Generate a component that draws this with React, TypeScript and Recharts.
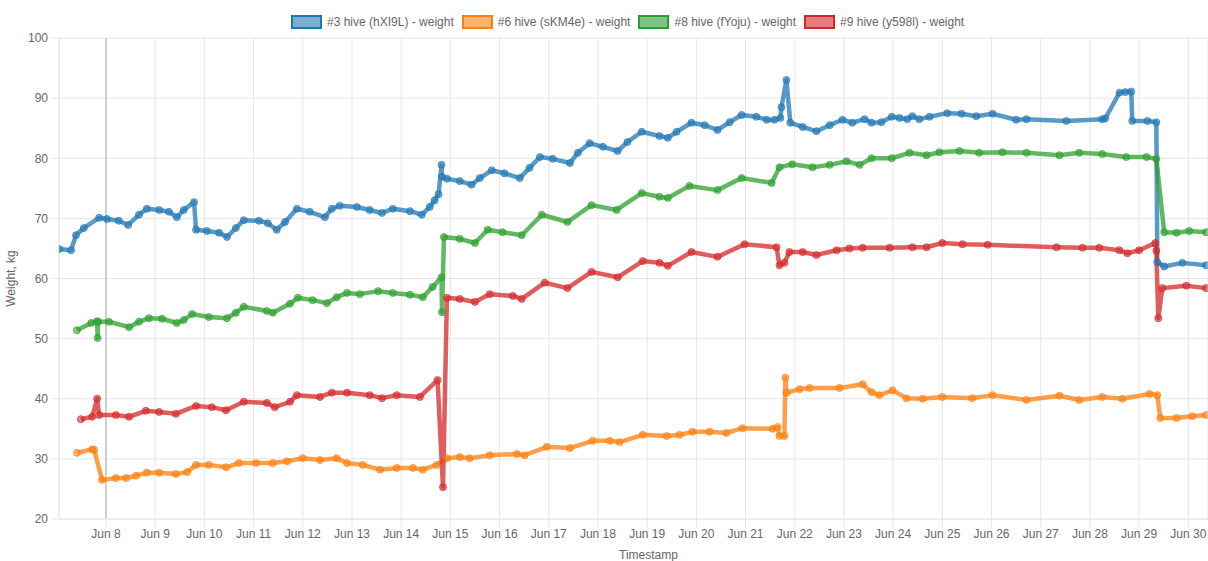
import React from "react";
import {
  LineChart,
  Line,
  XAxis,
  YAxis,
  CartesianGrid,
  ReferenceLine,
} from "recharts";

// time = fractional day of June, value = weight in kg
const hive3: [number, number][] = [
  [7.045, 64.9], [7.29, 64.7], [7.39, 67.2], [7.55, 68.4], [7.86, 70.1], [8.02, 69.9],
  [8.26, 69.6], [8.45, 68.9], [8.67, 70.6], [8.83, 71.6], [9.08, 71.4], [9.28, 71.1],
  [9.44, 70.2], [9.58, 71.4], [9.79, 72.7], [9.83, 68.1], [10.05, 67.9], [10.3, 67.6],
  [10.46, 66.9], [10.64, 68.4], [10.8, 69.7], [11.11, 69.6], [11.29, 69.2], [11.47, 68.1],
  [11.64, 69.4], [11.88, 71.6], [12.14, 71.1], [12.45, 70.2], [12.59, 71.6], [12.75, 72.1],
  [13.1, 71.9], [13.36, 71.4], [13.61, 70.9], [13.83, 71.6], [14.18, 71.2], [14.42, 70.6],
  [14.58, 71.9], [14.68, 73.0], [14.76, 74.0], [14.82, 78.9], [14.83, 76.9], [14.93, 76.6],
  [15.19, 76.2], [15.43, 75.6], [15.6, 76.7], [15.84, 78.0], [16.1, 77.5], [16.41, 76.7],
  [16.61, 78.4], [16.82, 80.2], [17.08, 79.9], [17.43, 79.2], [17.59, 80.9], [17.83, 82.5],
  [18.1, 81.9], [18.4, 81.2], [18.6, 82.7], [18.89, 84.4], [19.25, 83.7], [19.42, 83.4],
  [19.6, 84.4], [19.9, 85.9], [20.17, 85.5], [20.43, 84.7], [20.68, 86.0], [20.92, 87.2],
  [21.22, 86.9], [21.43, 86.4], [21.59, 86.4], [21.71, 86.7], [21.73, 88.5], [21.83, 93.0],
  [21.91, 85.9], [22.16, 85.2], [22.44, 84.5], [22.71, 85.5], [22.97, 86.4], [23.17, 85.9],
  [23.42, 86.5], [23.56, 85.9], [23.76, 86.0], [23.97, 86.9], [24.13, 86.7], [24.29, 86.5],
  [24.39, 87.0], [24.53, 86.5], [24.74, 86.9], [25.1, 87.5], [25.39, 87.4], [25.69, 87.0],
  [26.02, 87.4], [26.5, 86.4], [26.71, 86.5], [27.52, 86.2], [28.25, 86.5], [28.31, 86.6],
  [28.6, 90.9], [28.72, 91.0], [28.84, 91.1], [28.86, 86.2], [29.17, 86.2], [29.35, 86.0],
  [29.37, 62.7], [29.51, 62.0], [29.88, 62.6], [30.36, 62.2],
];

const hive6: [number, number][] = [
  [7.41, 31.0], [7.72, 31.6], [7.76, 31.5], [7.92, 26.5], [8.2, 26.8], [8.41, 26.8],
  [8.61, 27.2], [8.83, 27.7], [9.08, 27.7], [9.42, 27.5], [9.65, 27.8], [9.83, 29.0],
  [10.09, 29.0], [10.44, 28.6], [10.7, 29.3], [11.05, 29.3], [11.39, 29.3], [11.68, 29.6],
  [12.0, 30.1], [12.35, 29.8], [12.69, 30.1], [12.9, 29.3], [13.22, 29.0], [13.57, 28.2],
  [13.91, 28.5], [14.24, 28.5], [14.44, 28.2], [14.72, 29.0], [14.93, 30.1], [15.19, 30.3],
  [15.39, 30.1], [15.8, 30.6], [16.35, 30.8], [16.51, 30.6], [16.96, 32.0], [17.43, 31.8],
  [17.89, 33.0], [18.24, 33.0], [18.44, 32.8], [18.91, 34.0], [19.4, 33.8], [19.66, 34.0],
  [19.92, 34.5], [20.27, 34.5], [20.61, 34.3], [20.94, 35.1], [21.55, 35.0], [21.65, 35.3],
  [21.69, 33.8], [21.79, 33.8], [21.81, 43.5], [21.83, 41.0], [22.1, 41.6], [22.3, 41.8],
  [22.91, 41.8], [23.38, 42.4], [23.56, 41.1], [23.72, 40.6], [23.99, 41.4], [24.27, 40.1],
  [24.6, 40.0], [25.0, 40.3], [25.61, 40.1], [26.02, 40.6], [26.71, 39.8], [27.38, 40.5],
  [27.78, 39.8], [28.25, 40.3], [28.66, 40.0], [29.21, 40.8], [29.37, 40.6], [29.43, 36.8],
  [29.76, 36.8], [30.08, 37.1], [30.36, 37.3],
];

const hive8: [number, number][] = [
  [7.41, 51.4], [7.7, 52.6], [7.82, 52.9], [7.83, 50.1], [7.84, 52.8], [8.06, 52.8],
  [8.47, 51.9], [8.67, 52.8], [8.87, 53.4], [9.14, 53.3], [9.44, 52.6], [9.58, 53.1],
  [9.75, 54.1], [10.09, 53.6], [10.46, 53.4], [10.64, 54.3], [10.8, 55.3], [11.27, 54.6],
  [11.39, 54.3], [11.74, 55.8], [11.9, 56.8], [12.2, 56.4], [12.49, 55.9], [12.69, 56.9],
  [12.9, 57.6], [13.16, 57.4], [13.53, 57.9], [13.83, 57.6], [14.18, 57.3], [14.44, 56.9],
  [14.64, 58.6], [14.82, 60.2], [14.83, 54.4], [14.87, 66.9], [15.19, 66.6], [15.5, 65.9],
  [15.76, 68.1], [16.06, 67.7], [16.45, 67.2], [16.86, 70.6], [17.38, 69.4], [17.87, 72.2],
  [18.38, 71.4], [18.89, 74.2], [19.25, 73.6], [19.42, 73.4], [19.86, 75.4], [20.43, 74.7],
  [20.92, 76.7], [21.53, 75.9], [21.69, 78.5], [21.95, 79.0], [22.36, 78.5], [22.71, 78.9],
  [23.05, 79.5], [23.32, 78.9], [23.56, 80.0], [23.97, 80.0], [24.33, 80.9], [24.68, 80.5],
  [24.94, 81.0], [25.35, 81.2], [25.75, 80.9], [26.22, 81.0], [26.71, 80.9], [27.38, 80.5],
  [27.78, 80.9], [28.25, 80.7], [28.74, 80.2], [29.15, 80.2], [29.35, 79.9], [29.51, 67.7],
  [29.76, 67.6], [30.02, 67.9], [30.36, 67.7],
];

const hive9: [number, number][] = [
  [7.49, 36.6], [7.72, 37.0], [7.82, 40.0], [7.86, 37.3], [8.2, 37.3], [8.47, 37.0],
  [8.81, 38.0], [9.08, 37.8], [9.42, 37.5], [9.83, 38.8], [10.15, 38.6], [10.44, 38.1],
  [10.8, 39.5], [11.27, 39.3], [11.43, 38.6], [11.74, 39.5], [11.88, 40.6], [12.35, 40.3],
  [12.59, 41.0], [12.9, 41.0], [13.36, 40.6], [13.61, 40.1], [13.91, 40.6], [14.38, 40.3],
  [14.74, 43.1], [14.85, 25.3], [14.93, 56.8], [15.19, 56.6], [15.5, 56.1], [15.8, 57.4],
  [16.27, 57.1], [16.45, 56.6], [16.92, 59.3], [17.38, 58.4], [17.87, 61.1], [18.4, 60.2],
  [18.91, 62.9], [19.25, 62.6], [19.42, 62.1], [19.9, 64.4], [20.43, 63.6], [20.98, 65.7],
  [21.63, 65.2], [21.69, 62.2], [21.79, 62.6], [21.89, 64.4], [22.16, 64.4], [22.44, 63.9],
  [22.85, 64.7], [23.11, 65.0], [23.38, 65.1], [23.93, 65.1], [24.39, 65.2], [24.68, 65.2],
  [25.0, 65.9], [25.41, 65.7], [25.92, 65.6], [27.32, 65.2], [27.85, 65.1], [28.19, 65.1],
  [28.6, 64.7], [28.76, 64.2], [29.0, 64.7], [29.33, 65.9], [29.35, 64.6], [29.39, 53.4],
  [29.47, 58.4], [29.96, 58.8], [30.36, 58.4],
];

const dayTicks = [8, 9, 10, 11, 12, 13, 14, 15, 16, 17, 18, 19, 20, 21, 22, 23, 24, 25, 26, 27, 28, 29, 30];
const weightTicks = [20, 30, 40, 50, 60, 70, 80, 90, 100];

const series = [
  { name: "#3 hive (hXI9L) - weight", color: "#1f77b4", box: "rgba(31,119,180,0.6)", points: hive3 },
  { name: "#6 hive (sKM4e) - weight", color: "#ff7f0e", box: "rgba(255,127,14,0.6)", points: hive6 },
  { name: "#8 hive (fYoju) - weight", color: "#2ca02c", box: "rgba(44,160,44,0.6)", points: hive8 },
  { name: "#9 hive (y598l) - weight", color: "#d62728", box: "rgba(214,39,40,0.6)", points: hive9 },
];

const FONT = '"Liberation Sans", Arial, Helvetica, sans-serif';
const GRID = "#e6e6e6";
const TEXT = "#666";

function Legend() {
  return (
    <div
      style={{
        position: "absolute",
        top: 15,
        left: 291,
        display: "flex",
        alignItems: "center",
        fontFamily: FONT,
        fontSize: 12,
        color: TEXT,
        whiteSpace: "nowrap",
      }}
    >
      {series.map((s) => (
        <div key={s.name} style={{ display: "flex", alignItems: "center", marginRight: 8 }}>
          <span
            style={{
              display: "inline-block",
              width: 27,
              height: 10,
              background: s.box,
              border: `2px solid ${s.color}`,
              marginRight: 5,
            }}
          />
          <span>{s.name}</span>
        </div>
      ))}
    </div>
  );
}

export default function App() {
  return (
    <div style={{ position: "absolute", left: 0, top: 0, width: 1208, height: 561, background: "#fff" }}>
      <Legend />
      <LineChart
        width={1208}
        height={561}
        margin={{ top: 38, right: 0, left: 0, bottom: 0 }}
        style={{ fontFamily: FONT }}
      >
        <CartesianGrid stroke={GRID} />

        <XAxis
          dataKey="t"
          type="number"
          domain={[7.045, 30.4]}
          ticks={dayTicks}
          allowDataOverflow
          tickFormatter={(d: number) => `Jun ${d}`}
          height={42}
          tickSize={8}
          tickMargin={2}
          stroke={GRID}
          tick={{ fill: TEXT, fontSize: 12 }}
          label={{ value: "Timestamp", position: "insideBottom", offset: 2, dx: 15, fill: TEXT, fontSize: 12 }}
        />

        <YAxis
          type="number"
          domain={[20, 100]}
          ticks={weightTicks}
          width={59}
          tickSize={8}
          tickMargin={3}
          stroke={GRID}
          tick={{ fill: TEXT, fontSize: 12 }}
          label={{
            value: "Weight, kg",
            angle: -90,
            position: "insideLeft",
            offset: 11,
            fill: TEXT,
            fontSize: 12,
            style: { textAnchor: "middle" },
          }}
        />

        <ReferenceLine x={8} stroke="#aaa" strokeWidth={1} />

        {series.map((s) => (
          <Line
            key={s.name}
            data={s.points.map(([t, v]) => ({ t, v }))}
            dataKey="v"
            name={s.name}
            type="linear"
            stroke={s.color}
            strokeOpacity={0.75}
            strokeWidth={4.5}
            strokeLinejoin="round"
            dot={{ r: 3.5, fill: s.color, fillOpacity: 0.55, stroke: s.color, strokeOpacity: 0.7, strokeWidth: 1 }}
            activeDot={false}
            isAnimationActive={false}
          />
        ))}
      </LineChart>
    </div>
  );
}
